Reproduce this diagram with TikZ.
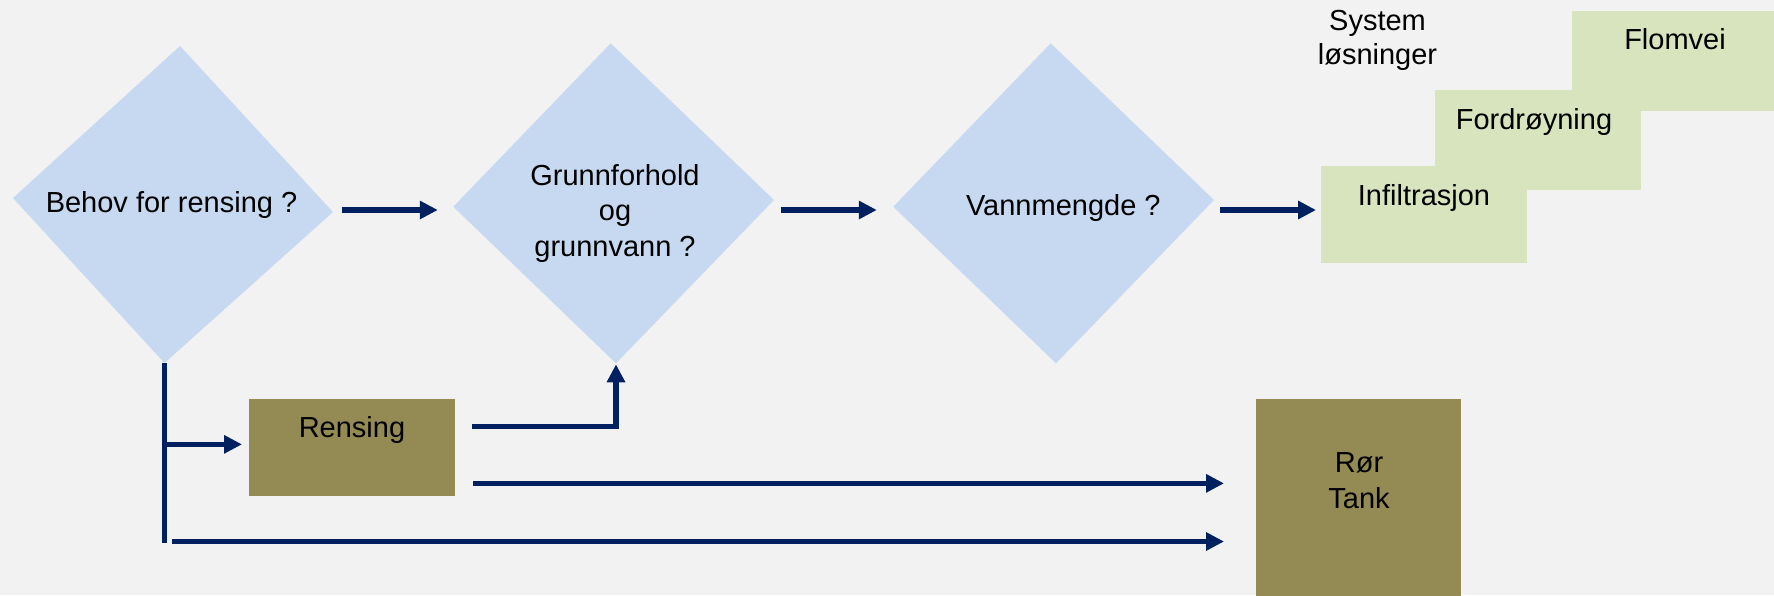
\documentclass[tikz,border=0pt]{standalone}
\usepackage{fontspec}
\setmainfont{Liberation Sans}
\usetikzlibrary{arrows.meta,calc}
\definecolor{bgcol}{HTML}{F2F2F2}
\definecolor{diablue}{HTML}{C6D9F1}
\definecolor{solgreen}{HTML}{D7E4BD}
\definecolor{olivebox}{HTML}{948A54}
\definecolor{navy}{HTML}{002060}
\begin{document}
\begin{tikzpicture}[x=1pt,y=-1pt,
  dia/.style={fill=diablue},
  lbl/.style={font=\fontsize{29}{35.5}\selectfont, inner sep=0pt, outer sep=0pt, align=center, text=black},
  sbox/.style={draw=none, inner sep=0pt, outer sep=0pt, anchor=north west},
  gbox/.style={sbox, fill=solgreen},
  obox/.style={sbox, fill=olivebox},
  conn/.style={draw=navy, line width=5.3pt},
  arr/.style={conn, -{Triangle[length=18pt,width=17.5pt]}},
]
\fill[bgcol] (0,0) rectangle (1774,595);
\useasboundingbox (0,0) rectangle (1774,595);

% diamonds
\coordinate (d1t) at (180,46);
\coordinate (d1r) at (333,212);
\coordinate (d1b) at (164.5,363);
\coordinate (d1l) at (13,198);
\fill[dia] (d1t) -- (d1r) -- (d1b) -- (d1l) -- cycle;
\node[lbl, anchor=base] (q1) at (171.5,212) {Behov for rensing ?};

\coordinate (d2t) at (610.7,43.3);
\coordinate (d2r) at (774,200);
\coordinate (d2b) at (616,363.3);
\coordinate (d2l) at (453.3,206.7);
\fill[dia] (d2t) -- (d2r) -- (d2b) -- (d2l) -- cycle;
\node[lbl, anchor=base] (q2) at (615,256) {Grunnforhold\\og\\grunnvann ?};

\coordinate (d3t) at (1050.7,43.3);
\coordinate (d3r) at (1214,200);
\coordinate (d3b) at (1056,363.3);
\coordinate (d3l) at (893.3,206.7);
\fill[dia] (d3t) -- (d3r) -- (d3b) -- (d3l) -- cycle;
\node[lbl, anchor=base] (q3) at (1063.3,215.7) {Vannmengde ?};

% solution steps
\node[lbl, anchor=base, font=\fontsize{29}{33.5}\selectfont] (sys) at (1377.5,64) {System\\løsninger};
\node[gbox, minimum width=202pt, minimum height=100pt] (flom) at (1572,11) {};
\node[gbox, minimum width=205.7pt, minimum height=100pt] (ford) at (1435,90) {};
\node[gbox, minimum width=205.7pt, minimum height=96.7pt] (inf) at (1321,166) {};
\node[lbl, anchor=base] (tflom) at (1675,49) {Flomvei};
\node[lbl, anchor=base] (tford) at (1534,129) {Fordrøyning};
\node[lbl, anchor=base] (tinf) at (1424,205) {Infiltrasjon};

% olive boxes
\node[obox, minimum width=206pt, minimum height=96.7pt] (rens) at (249,399) {};
\node[lbl, anchor=base] (trens) at (352,437) {Rensing};
\node[obox, minimum width=205pt, minimum height=200pt] (ror) at (1256,399) {};
\node[lbl, anchor=base] (tror) at (1359,508) {Rør\\Tank};

% connectors
\coordinate (row) at (0,210);
\coordinate (bot) at (0,541.5);
\draw[arr, shorten <=9pt, shorten >=15.5pt] (d1r |- row) -- (d2l |- row);
\draw[arr, shorten <=6.7pt, shorten >=16.5pt] (d2r |- row) -- (d3l |- row);
\draw[arr, shorten <=6pt, shorten >=5pt] (d3r |- row) -- (inf.west |- row);

\draw[conn] (d1b) -- ($(d1b |- bot)+(0,1.5)$);
\draw[arr, shorten >=7pt] ($(d1b |- rens.west)+(0,-3)$) -- ($(rens.west)+(0,-3)$);
\draw[arr, shorten <=7.5pt, shorten >=32pt] (d1b |- bot) -- (ror.west |- bot);

\draw[arr, shorten >=1pt] ($(rens.east)+(17,-21)$) -| (d2b);
\coordinate (r2s) at ($(rens.east)+(18,36)$);
\draw[arr, shorten >=32pt] (r2s) -- (r2s -| ror.west);
\end{tikzpicture}
\end{document}
